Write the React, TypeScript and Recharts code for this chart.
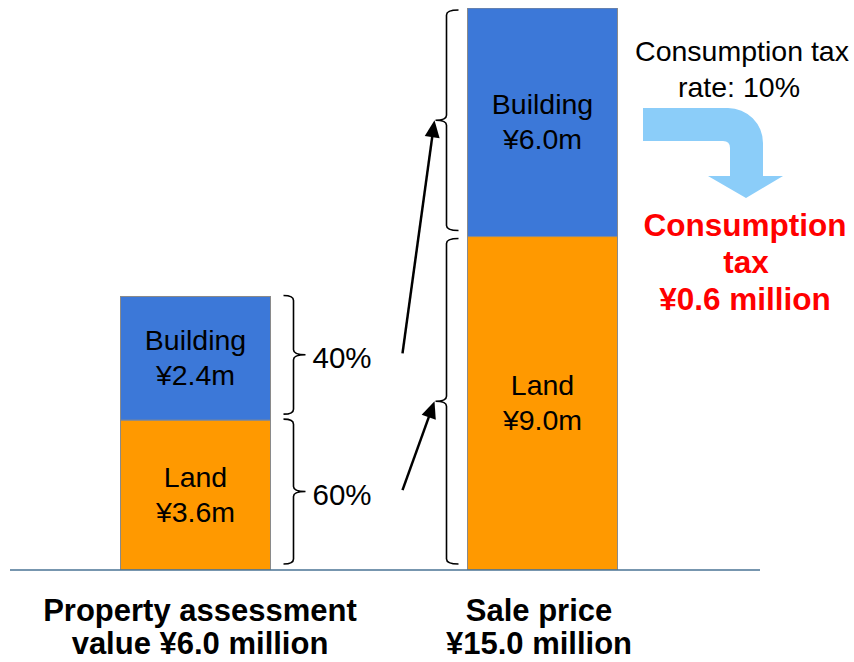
import React from 'react';
import { BarChart, Bar, XAxis, YAxis, Customized } from 'recharts';

// ---- data ----
const categories = ['Property assessment value ¥6.0 million', 'Sale price ¥15.0 million'];
const categoryLines = [
  ['Property assessment', 'value ¥6.0 million'],
  ['Sale price', '¥15.0 million'],
];
// drawn heights of each segment (¥ million scale of the picture)
const landHeights = [4.0, 8.9];
const buildingHeights = [3.3, 6.1];
const landLabels = ['¥3.6m', '¥9.0m'];
const buildingLabels = ['¥2.4m', '¥6.0m'];
const landShare = '60%';
const buildingShare = '40%';
const taxRateLines = ['Consumption tax', 'rate: 10%'];
const taxLines = ['Consumption', 'tax', '¥0.6 million'];

const data = categories.map((name, i) => ({
  name,
  land: landHeights[i],
  building: buildingHeights[i],
}));

const FONT = '"Liberation Sans", Arial, sans-serif';
const LAND = '#FF9900';
const BUILDING = '#3C78D8';

function bracePath(xv: number, hookX: number, tipX: number, top: number, bot: number) {
  const mid = (top + bot) / 2;
  const r = 5;
  return `M${hookX},${top} Q${xv},${top} ${xv},${top + r} L${xv},${mid - r} Q${xv},${mid} ${tipX},${mid} Q${xv},${mid} ${xv},${mid + r} L${xv},${bot - r} Q${xv},${bot} ${hookX},${bot}`;
}

function arrow(x1: number, y1: number, x2: number, y2: number) {
  const dx = x2 - x1;
  const dy = y2 - y1;
  const len = Math.sqrt(dx * dx + dy * dy);
  const ux = dx / len;
  const uy = dy / len;
  const hl = 17;
  const hw = 7.5;
  const bx = x2 - ux * hl;
  const by = y2 - uy * hl;
  const px = -uy;
  const py = ux;
  return (
    <g>
      <line x1={x1} y1={y1} x2={bx + ux * 2} y2={by + uy * 2} stroke="#000" strokeWidth={2.5} />
      <polygon
        points={`${x2},${y2} ${bx + px * hw},${by + py * hw} ${bx - px * hw},${by - py * hw}`}
        fill="#000"
      />
    </g>
  );
}

function makeShape(series: 'land' | 'building') {
  return (props: any) => {
    const { x, y, width, height, fill } = props;
    let i = categories.indexOf(props?.payload?.name);
    if (i < 0) i = props.index ?? 0;
    const heights = series === 'land' ? landHeights : buildingHeights;
    const labels = series === 'land' ? landLabels : buildingLabels;
    const title = series === 'land' ? 'Land' : 'Building';
    const ppu = height / heights[i];
    const base = y + height + (series === 'building' ? landHeights[i] * ppu : 0);
    const cx = x + width / 2;
    const cy = y + height / 2;
    const top = i === 0 ? y - 1 : y + 2;
    const bot = y + height - 6;
    const right = x + width;
    return (
      <g>
        <rect x={x} y={y} width={width} height={height} fill={fill} stroke="#8a8a8a" strokeWidth={1} />
        <text x={cx} y={cy} textAnchor="middle" fontFamily={FONT} fontSize={28.5} fill="#000">
          <tspan x={cx} dy={-8}>{title}</tspan>
          <tspan x={cx} dy={35}>{labels[i]}</tspan>
        </text>
        {i === 0 ? (
          <g>
            <path d={bracePath(right + 23, right + 13, right + 35, top, bot)} fill="none" stroke="#000" strokeWidth={1.6} />
            <text x={right + 42} y={cy + 10} fontFamily={FONT} fontSize={29.5} fill="#000">
              {series === 'land' ? landShare : buildingShare}
            </text>
          </g>
        ) : (
          <g>
            <path d={bracePath(x - 21, x - 9, x - 32, top, bot)} fill="none" stroke="#000" strokeWidth={1.6} />
            {(() => {
              const lo = series === 'land' ? 0 : landHeights[0];
              const hi = series === 'land' ? landHeights[0] : landHeights[0] + buildingHeights[0];
              const tailY = base - ((lo + hi) / 2) * ppu - 5;
              return arrow(x - 65, tailY, x - 33, (top + bot) / 2);
            })()}
          </g>
        )}
      </g>
    );
  };
}

const tickDx = [5, -3];
const CategoryTick = (props: any) => {
  const { x, y, payload } = props;
  let i = categories.indexOf(payload?.value);
  if (i < 0) i = payload?.index ?? 0;
  const lines = categoryLines[i] ?? [String(payload?.value)];
  const tx = x + tickDx[i];
  return (
    <text x={tx} y={y} textAnchor="middle" fontFamily={FONT} fontWeight="bold" fontSize={31} fill="#000">
      {lines.map((l, k) => (
        <tspan key={k} x={tx} dy={k === 0 ? 51 : 33}>
          {l}
        </tspan>
      ))}
    </text>
  );
};

const TaxNote = () => {
  const cx = 742;
  return (
    <g>
      <text x={cx} y={61} textAnchor="middle" fontFamily={FONT} fontSize={28.5} fill="#000">
        <tspan x={cx} dy={0}>{taxRateLines[0]}</tspan>
        <tspan x={cx - 3} dy={36}>{taxRateLines[1]}</tspan>
      </text>
      <path
        d="M643,108 L728,108 A35,35 0 0 1 763,143 L763,176 L783,176 L746,198 L708,176 L730,176 L730,148 Q730,141 723,141 L643,141 Z"
        fill="#8BCDF9"
      />
      <text x={745} y={236} textAnchor="middle" fontFamily={FONT} fontWeight="bold" fontSize={31.5} fill="#FF0000">
        <tspan x={745} dy={0}>{taxLines[0]}</tspan>
        <tspan x={746} dy={37}>{taxLines[1]}</tspan>
        <tspan x={745} dy={37}>{taxLines[2]}</tspan>
      </text>
    </g>
  );
};

export default function App() {
  return (
    <div style={{ position: 'absolute', left: 0, top: 0, width: 854, height: 662, background: '#fff' }}>
      <BarChart
        width={854}
        height={662}
        data={data}
        margin={{ top: 8, right: 94, bottom: 0, left: 10 }}
        barCategoryGap={0}
      >
        <XAxis
          dataKey="name"
          height={92}
          padding={{ left: 11.5, right: 44.5 }}
          axisLine={{ stroke: '#4A7394', strokeWidth: 1.6 }}
          tickLine={false}
          tickSize={0}
          tickMargin={0}
          interval={0}
          tick={<CategoryTick />}
        />
        <YAxis hide width={0} domain={[0, 15]} type="number" allowDataOverflow />
        <Bar dataKey="land" stackId="a" fill={LAND} barSize={150} isAnimationActive={false} shape={makeShape('land')} />
        <Bar dataKey="building" stackId="a" fill={BUILDING} barSize={150} isAnimationActive={false} shape={makeShape('building')} />
        <Customized component={TaxNote} />
      </BarChart>
    </div>
  );
}
